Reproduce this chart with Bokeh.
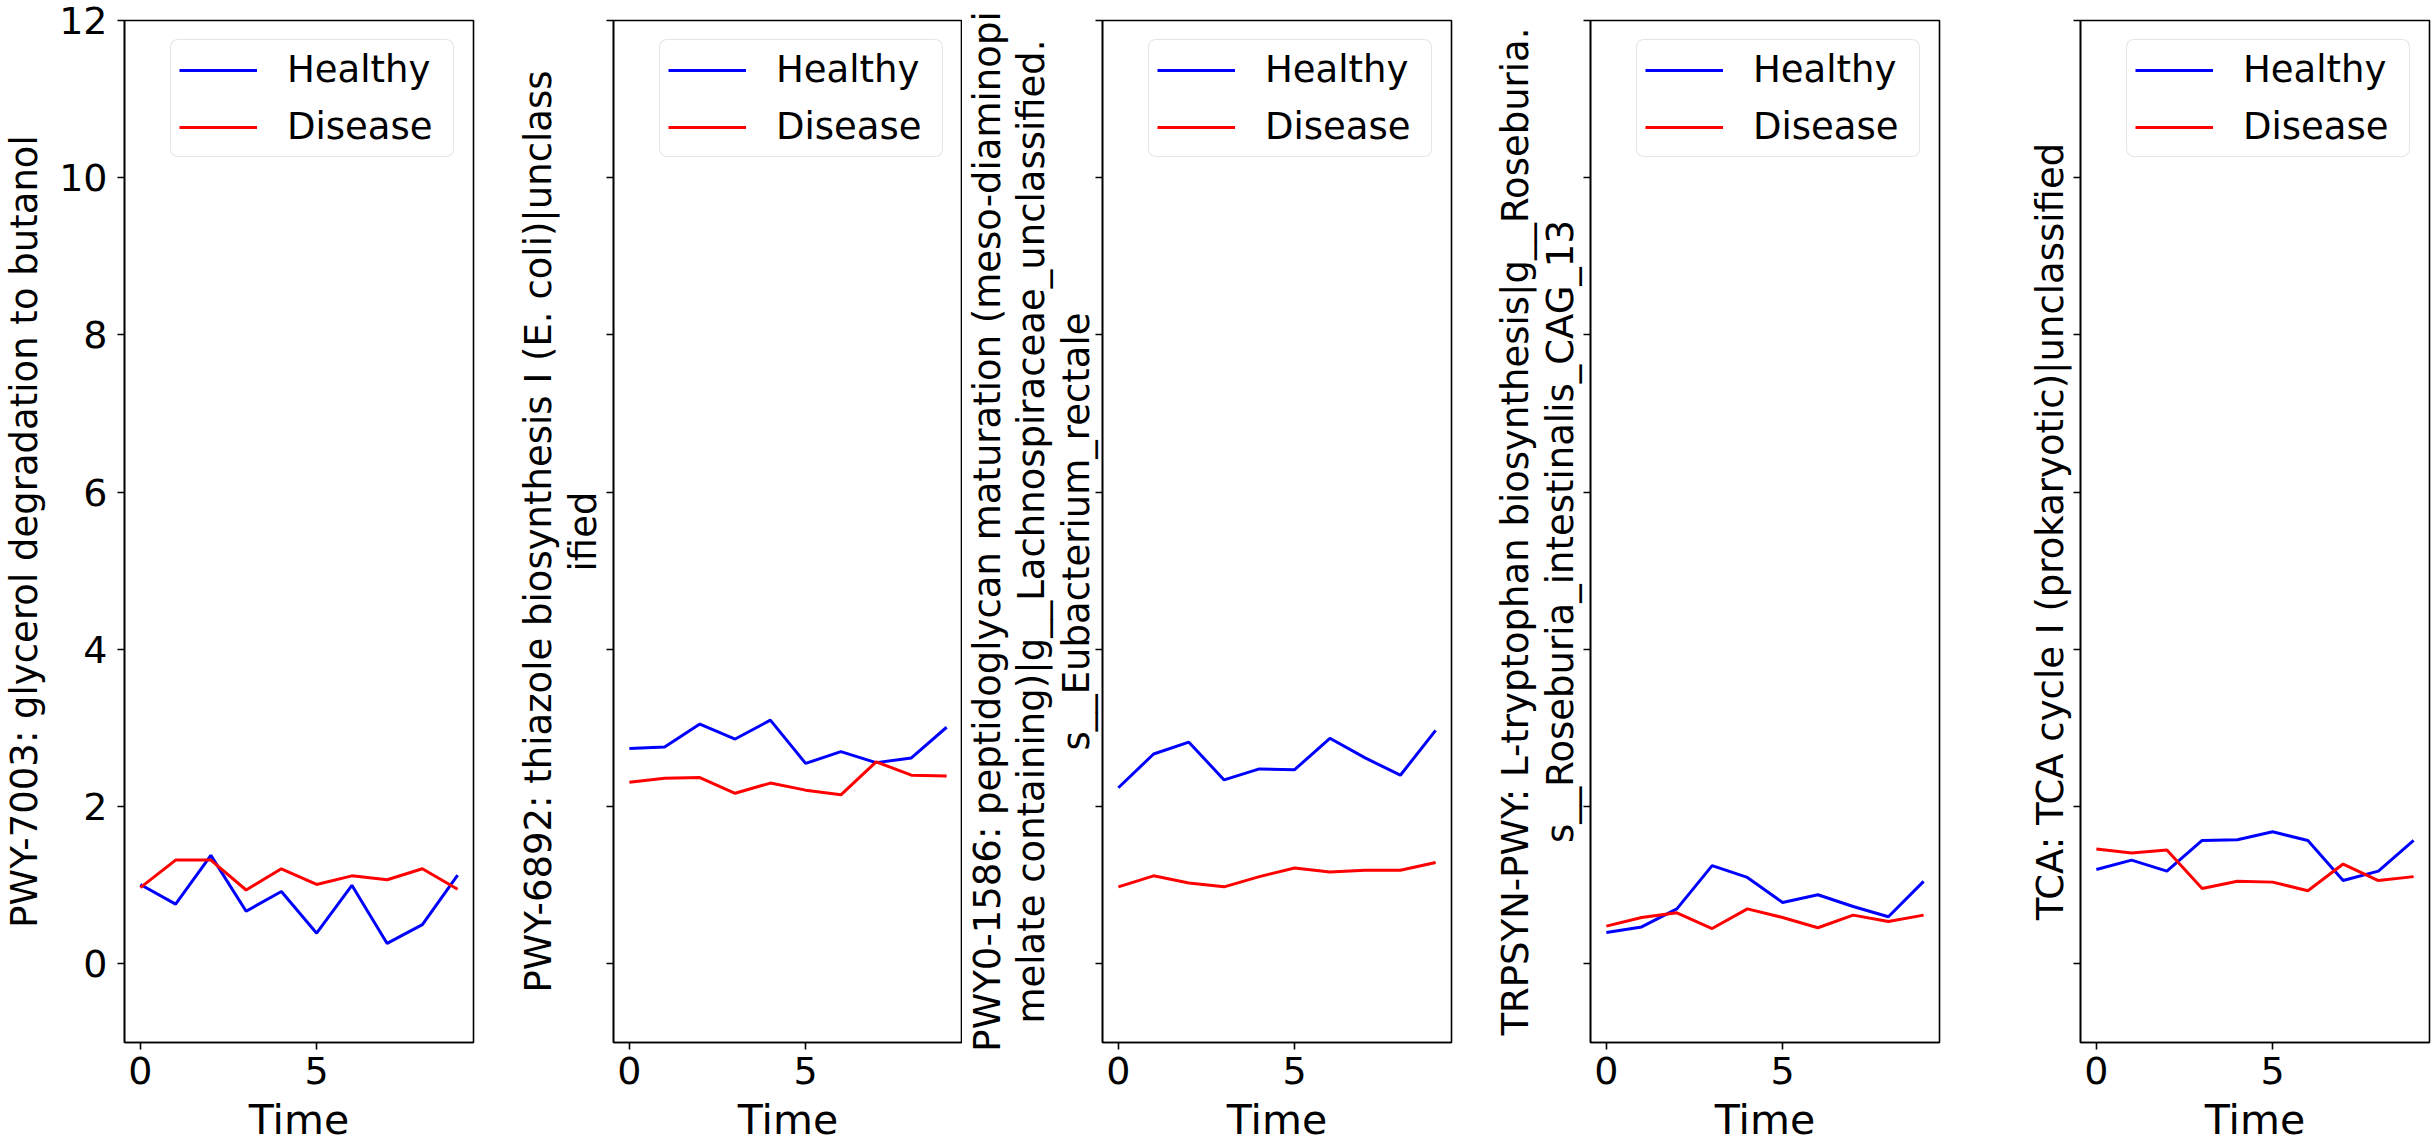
from bokeh.plotting import figure
from bokeh.layouts import row
from bokeh.models import Range1d, FixedTicker, Legend, LegendItem
from bokeh.embed import file_html
from bokeh.resources import INLINE

time = [0, 1, 2, 3, 4, 5, 6, 7, 8, 9]

labels = [
    "PWY-7003: glycerol degradation to butanol",
    "PWY-6892: thiazole biosynthesis I (E. coli)|unclass\nified",
    "PWY0-1586: peptidoglycan maturation (meso-diaminopi\nmelate containing)|g__Lachnospiraceae_unclassified.\ns__Eubacterium_rectale",
    "TRPSYN-PWY: L-tryptophan biosynthesis|g__Roseburia.\ns__Roseburia_intestinalis_CAG_13",
    "TCA: TCA cycle I (prokaryotic)|unclassified",
]

healthy1 = [1.01, 0.76, 1.38, 0.67, 0.92, 0.39, 1.00, 0.26, 0.50, 1.13]
disease1 = [0.97, 1.32, 1.32, 0.94, 1.21, 1.01, 1.12, 1.07, 1.21, 0.95]
healthy2 = [2.74, 2.76, 3.05, 2.86, 3.10, 2.55, 2.70, 2.56, 2.62, 3.01]
disease2 = [2.31, 2.36, 2.37, 2.17, 2.30, 2.21, 2.15, 2.57, 2.40, 2.39]
healthy3 = [2.24, 2.67, 2.82, 2.34, 2.48, 2.47, 2.87, 2.62, 2.40, 2.97]
disease3 = [0.98, 1.12, 1.03, 0.98, 1.11, 1.22, 1.17, 1.19, 1.19, 1.29]
healthy4 = [0.40, 0.47, 0.70, 1.25, 1.10, 0.78, 0.88, 0.73, 0.60, 1.05]
disease4 = [0.48, 0.59, 0.65, 0.45, 0.70, 0.59, 0.46, 0.62, 0.54, 0.62]
healthy5 = [1.20, 1.32, 1.18, 1.57, 1.58, 1.68, 1.57, 1.06, 1.18, 1.57]
disease5 = [1.46, 1.41, 1.45, 0.96, 1.05, 1.04, 0.93, 1.27, 1.06, 1.11]

healthy = [healthy1, healthy2, healthy3, healthy4, healthy5]
disease = [disease1, disease2, disease3, disease4, disease5]

x_ticks = [0, 5]
y_ticks = [0, 2, 4, 6, 8, 10, 12]

FONT = "DejaVu Sans"
yr = Range1d(-1, 12)

border_left = [114, 130, 139, 129, 131]
border_right = [10, 0, 10, 10, 2]
label_standoff = [10, 2, -2, 2, 2]

figs = []
for i in range(5):
    p = figure(frame_width=349, frame_height=1022,
               x_range=Range1d(-0.45, 9.45), y_range=yr,
               output_backend="svg", toolbar_location=None,
               min_border_left=border_left[i], min_border_right=border_right[i],
               min_border_top=20, min_border_bottom=60)
    p.grid.visible = False
    p.outline_line_color = "black"
    p.outline_line_width = 1.6
    p.background_fill_color = "white"
    p.border_fill_color = "white"

    for ax in (p.xaxis[0], p.yaxis[0]):
        ax.axis_line_color = "black"
        ax.axis_line_width = 1.6
        ax.major_tick_out = 7
        ax.major_tick_in = 0
        ax.major_tick_line_width = 1.6
        ax.major_tick_line_color = "black"
        ax.minor_tick_line_color = None
        ax.major_label_text_font = FONT
        ax.major_label_text_font_size = "38px"
        ax.major_label_text_color = "black"
        ax.axis_label_text_font = FONT
        ax.axis_label_text_font_style = "normal"
        ax.axis_label_text_color = "black"

    p.xaxis.ticker = FixedTicker(ticks=x_ticks)
    p.xaxis.axis_label = "Time"
    p.xaxis.axis_label_text_font_size = "41px"
    p.xaxis.major_label_standoff = 7
    p.xaxis.axis_label_standoff = 9

    p.yaxis.ticker = FixedTicker(ticks=y_ticks)
    p.yaxis.axis_label = labels[i]
    p.yaxis.axis_label_text_font_size = "37px"
    p.yaxis.axis_label_text_line_height = 1.03
    p.yaxis.axis_label_standoff = label_standoff[i]
    if i == 0:
        p.yaxis.major_label_standoff = 10
    else:
        p.yaxis.major_label_overrides = {t: "" for t in y_ticks}
        p.yaxis.major_label_standoff = 0

    rh = p.line(time, healthy[i], line_color="#0000ff", line_width=3)
    rd = p.line(time, disease[i], line_color="#ff0000", line_width=3)

    leg = Legend(items=[LegendItem(label="Healthy", renderers=[rh]),
                        LegendItem(label="Disease", renderers=[rd])],
                 location="top_right", margin=19, padding=8,
                 glyph_width=78, glyph_height=42, label_height=42,
                 label_width=158, label_standoff=30, spacing=14,
                 label_text_font=FONT, label_text_font_size="37px",
                 label_text_color="black",
                 border_line_color="#cccccc", border_line_width=1.6,
                 background_fill_color="white", background_fill_alpha=0.8)
    if "border_radius" in Legend.properties():
        leg.border_radius = 8
    p.add_layout(leg)
    figs.append(p)

layout = row(*figs, spacing=0)
open("out.html", "w").write(file_html(layout, INLINE))
